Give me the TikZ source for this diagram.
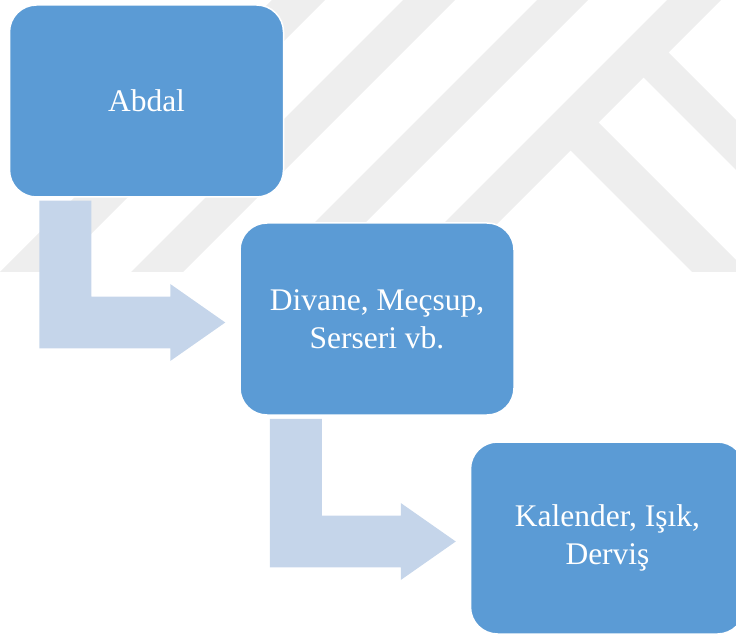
\documentclass[tikz,border=0pt]{standalone}
\usepackage{fontspec}
\setmainfont{Liberation Serif}
\usetikzlibrary{calc}

\definecolor{boxblue}{HTML}{5B9BD5}
\definecolor{elbowblue}{HTML}{C5D5EA}
\definecolor{markgray}{HTML}{EEEEEE}

\tikzset{
  stage/.style={draw=white, line width=1.5pt, fill=boxblue, rounded corners=27pt,
    minimum width=274pt, minimum height=192pt, inner sep=0pt,
    text=white, align=center, font=\fontsize{31.5}{37.8}\selectfont},
  elbowfill/.style={fill=elbowblue},
  wmark/.style={fill=markgray},
}

% Bent block arrow: down from the bottom of #1, then right into the side of #2
\newcommand\elbowarrow[2]{%
  \coordinate (ea-t) at ($(#2.west)+(-14,3.5)$);
  \coordinate (ea-s) at ($(#1.south west)+(30.7,3)$);
  \coordinate (ea-u) at ($(ea-t)+(-55,-25.8)$);
  \coordinate (ea-l) at ($(ea-t)+(-55,25.8)$);
  \fill[elbowfill] (ea-s) -- ++(52,0) |- (ea-u) -- ++(0,-12.7) -- (ea-t)
    -- ($(ea-l)+(0,12.7)$) -- (ea-l) -| (ea-s) -- cycle;
}

\begin{document}
\begin{tikzpicture}[x=1pt,y=-1pt]
\path[use as bounding box] (0,0) rectangle (736,636);

% faint striped logo behind the chart
\begin{scope}
  \clip (0,0) rectangle (736,272);
  \foreach \a/\w in {272/53, 403/52, 537/51, 667/54}
    \fill[wmark] (\a,0) -- ++(\w,0) -- ++(-272,272) -- ++(-\w,0) -- cycle;
  \fill[wmark] (570,150) -- (598,122) -- (748,272) -- (692,272) -- cycle;
  \fill[wmark] (643,77) -- (668,52) -- (800,184) -- (800,234) -- cycle;
\end{scope}

\node[stage] (abdal) at (146.5,101) {Abdal};
\node[stage] (divane) at (377,319) {Divane, Meçsup,\\Serseri vb.};
\node[stage] (kalender) at (607.5,538) {Kalender, Işık,\\Derviş};

\elbowarrow{abdal}{divane}
\elbowarrow{divane}{kalender}
\end{tikzpicture}
\end{document}
